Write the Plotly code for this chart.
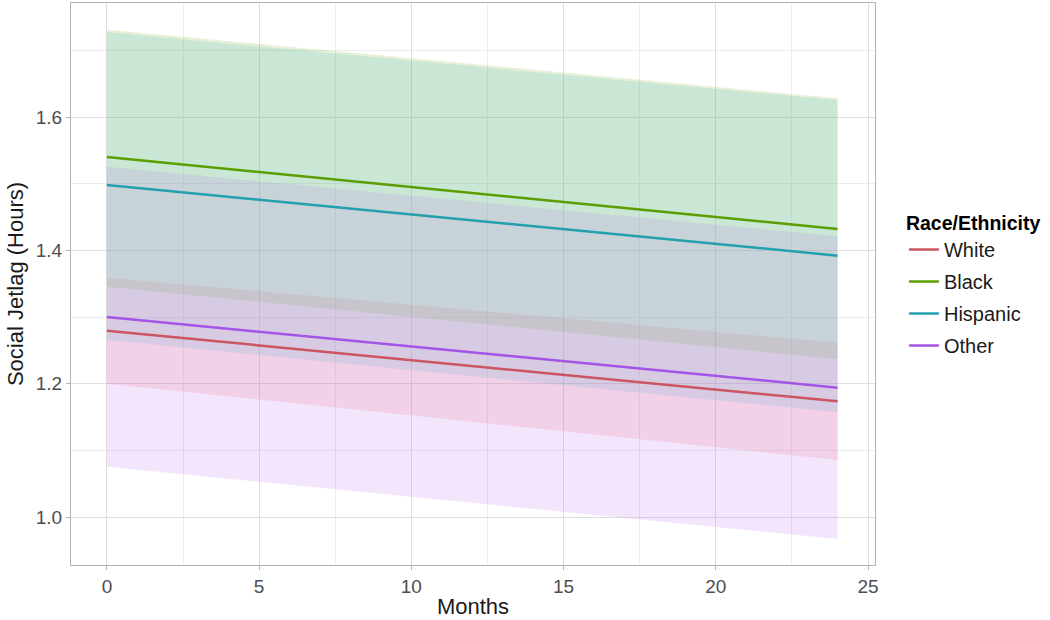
"""Social jetlag over months by race/ethnicity: fitted lines with CI ribbons."""

import plotly.graph_objects as go

months = [0, 24]

groups = ["White", "Black", "Hispanic", "Other"]

fit = {
    "White": [1.2795, 1.1735],
    "Black": [1.540, 1.432],
    "Hispanic": [1.498, 1.392],
    "Other": [1.300, 1.194],
}
lower = {
    "White": [1.200, 1.0855],
    "Black": [1.3455, 1.2365],
    "Hispanic": [1.2655, 1.157],
    "Other": [1.0755, 0.967],
}
upper = {
    "White": [1.359, 1.2615],
    "Black": [1.731, 1.628],
    "Hispanic": [1.727, 1.625],
    "Other": [1.5255, 1.421],
}

ribbon_fill = {
    "White": "rgba(249,118,130,0.2)",
    "Black": "rgba(130,180,55,0.2)",
    "Hispanic": "rgba(84,195,200,0.2)",
    "Other": "rgba(195,130,240,0.2)",
}
line_color = {
    "White": "#CB5560",
    "Black": "#5A9E00",
    "Hispanic": "#22A0AE",
    "Other": "#A555E6",
}

fig = go.Figure()

# ribbons first, in factor order, so overlaps blend like the original
for g in groups:
    fig.add_trace(go.Scatter(
        x=months + months[::-1],
        y=upper[g] + lower[g][::-1],
        fill="toself",
        fillcolor=ribbon_fill[g],
        line={"width": 0},
        mode="lines",
        hoverinfo="skip",
        showlegend=False,
    ))

for g in groups:
    fig.add_trace(go.Scatter(
        x=months,
        y=fit[g],
        mode="lines",
        name=g,
        legendgroup=g,
        line={"color": line_color[g], "width": 2.5},
    ))

axis_common = dict(
    showline=True,
    mirror=True,
    linecolor="#b3b3b3",
    linewidth=1,
    showgrid=True,
    gridcolor="#dedede",
    gridwidth=1,
    ticks="outside",
    ticklen=4,
    tickcolor="#b3b3b3",
    tickfont={"size": 19, "color": "#4d4d4d"},
    zeroline=False,
)

fig.update_xaxes(
    range=[-1.18, 25.23],
    tick0=0,
    dtick=5,
    minor={"dtick": 2.5, "showgrid": True, "gridcolor": "#ececec", "gridwidth": 1},
    title={"text": "Months", "font": {"size": 22, "color": "#1a1a1a"}, "standoff": 2},
    **axis_common,
)
fig.update_yaxes(
    range=[0.928, 1.771],
    tick0=1.0,
    dtick=0.2,
    tickformat=".1f",
    minor={"dtick": 0.1, "showgrid": True, "gridcolor": "#ececec", "gridwidth": 1},
    title={"text": "Social Jetlag (Hours)", "font": {"size": 22, "color": "#1a1a1a"}, "standoff": 6},
    **axis_common,
)

fig.update_layout(
    width=1050,
    height=620,
    margin={"l": 71, "r": 175, "t": 3, "b": 55},
    paper_bgcolor="white",
    plot_bgcolor="white",
    font={"family": "Liberation Sans, Arial, sans-serif"},
    legend={
        "title": {"text": "<b>Race/Ethnicity</b>", "font": {"size": 19.5, "color": "#000"}},
        "font": {"size": 20, "color": "#1a1a1a"},
        "x": 1.036,
        "xanchor": "left",
        "y": 0.498,
        "yanchor": "middle",
        "tracegroupgap": 3,
        "traceorder": "grouped",
        "itemwidth": 30,
    },
)

# drop the browser's default 8px body margin so the figure sits at the page corner
fig.write_html(
    "out.html",
    config={"displayModeBar": False},
    post_script="document.body.style.margin = '0';",
)
